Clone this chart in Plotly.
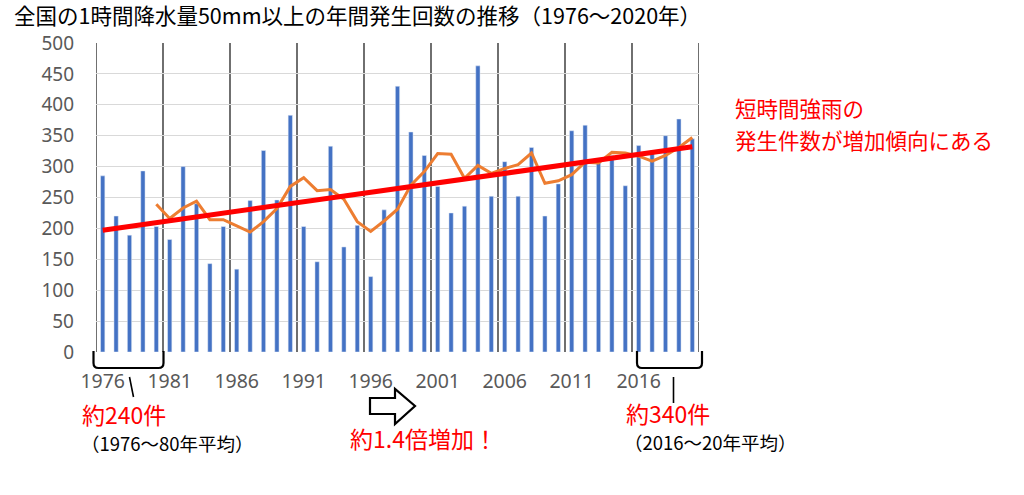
import plotly.graph_objects as go

# ---------------- data ----------------
years = list(range(1976, 2021))
counts = [285, 220, 189, 293, 203, 182, 300, 240, 143, 203,
          134, 245, 326, 246, 383, 203, 146, 333, 170, 205,
          122, 230, 430, 356, 318, 268, 225, 236, 463, 252,
          308, 252, 331, 220, 272, 358, 367, 308, 318, 269,
          334, 326, 350, 377, 345]
# 5-year moving average (1980-2020)
avg_years = years[4:]
avg_values = [239, 216, 233, 244, 214, 214, 204, 194, 211, 232,
              268, 282, 261, 263, 247, 211, 195, 212, 231, 270,
              292, 321, 320, 281, 302, 289, 297, 303, 322, 273,
              277, 287, 307, 306, 323, 322, 317, 309, 318, 331,
              347]
trend_years = [years[0], years[-1]]
trend_values = [197, 332]
tick_years = years[::5]
y_ticks = list(range(0, 501, 50))

title = "全国の1時間降水量50mm以上の年間発生回数の推移（1976～2020年）"

# ---------------- layout geometry ----------------
W, H = 1024, 495
ML, MR, MT, MB = 96, 325, 43, 143
PW, PH = W - ML - MR, H - MT - MB


def xp(px):
    return (px - ML) / PW


def yp(py):
    return (H - MB - py) / PH


JP = "Noto Sans CJK JP"
TICKF = "Noto Sans"

fig = go.Figure()
fig.add_trace(go.Bar(x=years, y=counts, marker_color="#4472C4", width=0.32,
                     showlegend=False, hoverinfo="x+y"))
fig.add_trace(go.Scatter(x=avg_years, y=avg_values, mode="lines",
                         line=dict(color="#ED7D31", width=3), showlegend=False))
fig.add_trace(go.Scatter(x=trend_years, y=trend_values, mode="lines",
                         line=dict(color="#FF0000", width=5), showlegend=False))

shapes = []
# vertical separators every 5 years
bounds = [y - 0.5 for y in years[::5]] + [years[-1] + 0.5]
for b in bounds:
    shapes.append(dict(type="line", xref="x", yref="y", x0=b, x1=b, y0=0, y1=500,
                       line=dict(color="#333333", width=1.4), layer="below"))


def bracket(x0, x1, ytop, ybot, r=5):
    p = (f"M {xp(x0)},{yp(ytop)} L {xp(x0)},{yp(ybot - r)} "
         f"Q {xp(x0)},{yp(ybot)} {xp(x0 + r)},{yp(ybot)} "
         f"L {xp(x1 - r)},{yp(ybot)} Q {xp(x1)},{yp(ybot)} {xp(x1)},{yp(ybot - r)} "
         f"L {xp(x1)},{yp(ytop)}")
    return dict(type="path", xref="paper", yref="paper", path=p,
                line=dict(color="black", width=2.2))


shapes.append(bracket(93.5, 163.5, 351, 368))
shapes.append(bracket(637, 702, 351, 368))
# pointer lines
shapes.append(dict(type="line", xref="paper", yref="paper",
                   x0=xp(129.5), y0=yp(377), x1=xp(133.5), y1=yp(397),
                   line=dict(color="black", width=1.6)))
shapes.append(dict(type="line", xref="paper", yref="paper",
                   x0=xp(673.5), y0=yp(377), x1=xp(673.5), y1=yp(403),
                   line=dict(color="black", width=1.6)))
# hollow arrow
pts = [(370, 398), (395, 398), (395, 389), (415, 406), (395, 424), (395, 414), (370, 414)]
ap = "M " + " L ".join(f"{xp(a)},{yp(b)}" for a, b in pts) + " Z"
shapes.append(dict(type="path", xref="paper", yref="paper", path=ap,
                   fillcolor="white", line=dict(color="black", width=2.2)))

ann = []


def text(s, x, y, size, color, anchor="left"):
    ann.append(dict(text=s, x=xp(x), y=yp(y), xref="paper", yref="paper",
                    xanchor=anchor, yanchor="middle", showarrow=False,
                    font=dict(family=JP, size=size, color=color)))


text(title, 12, 15, 21.5, "black")
text("約240件", 80, 414, 23, "#FF0000")
text("（1976～80年平均）", 79, 443, 18.5, "black")
text("約1.4倍増加！", 348, 438, 23, "#FF0000")
text("約340件", 624, 413, 23, "#FF0000")
text("（2016～20年平均）", 622, 442, 18.5, "black")
text("短時間強雨の", 733, 107, 21.5, "#FF0000")
text("発生件数が増加傾向にある", 733, 139, 21.5, "#FF0000")

fig.update_layout(
    width=W, height=H,
    margin=dict(l=ML, r=MR, t=MT, b=MB, pad=0),
    paper_bgcolor="white", plot_bgcolor="white",
    shapes=shapes, annotations=ann,
    bargap=0.7,
    xaxis=dict(range=[years[0] - 0.5, years[-1] + 0.5], tickvals=tick_years,
               ticktext=[str(t) for t in tick_years], showgrid=False, zeroline=False,
               showline=False, ticks="", ticklabelstandoff=15,
               tickfont=dict(family=TICKF, size=19.5, color="#595959")),
    yaxis=dict(range=[0, 500], tickvals=y_ticks, showgrid=True, gridcolor="#D9D9D9",
               gridwidth=1, zeroline=False, showline=False, ticks="",
               ticklabelstandoff=21,
               tickfont=dict(family=TICKF, size=19, color="#595959")),
)

fig.write_html("out.html")
